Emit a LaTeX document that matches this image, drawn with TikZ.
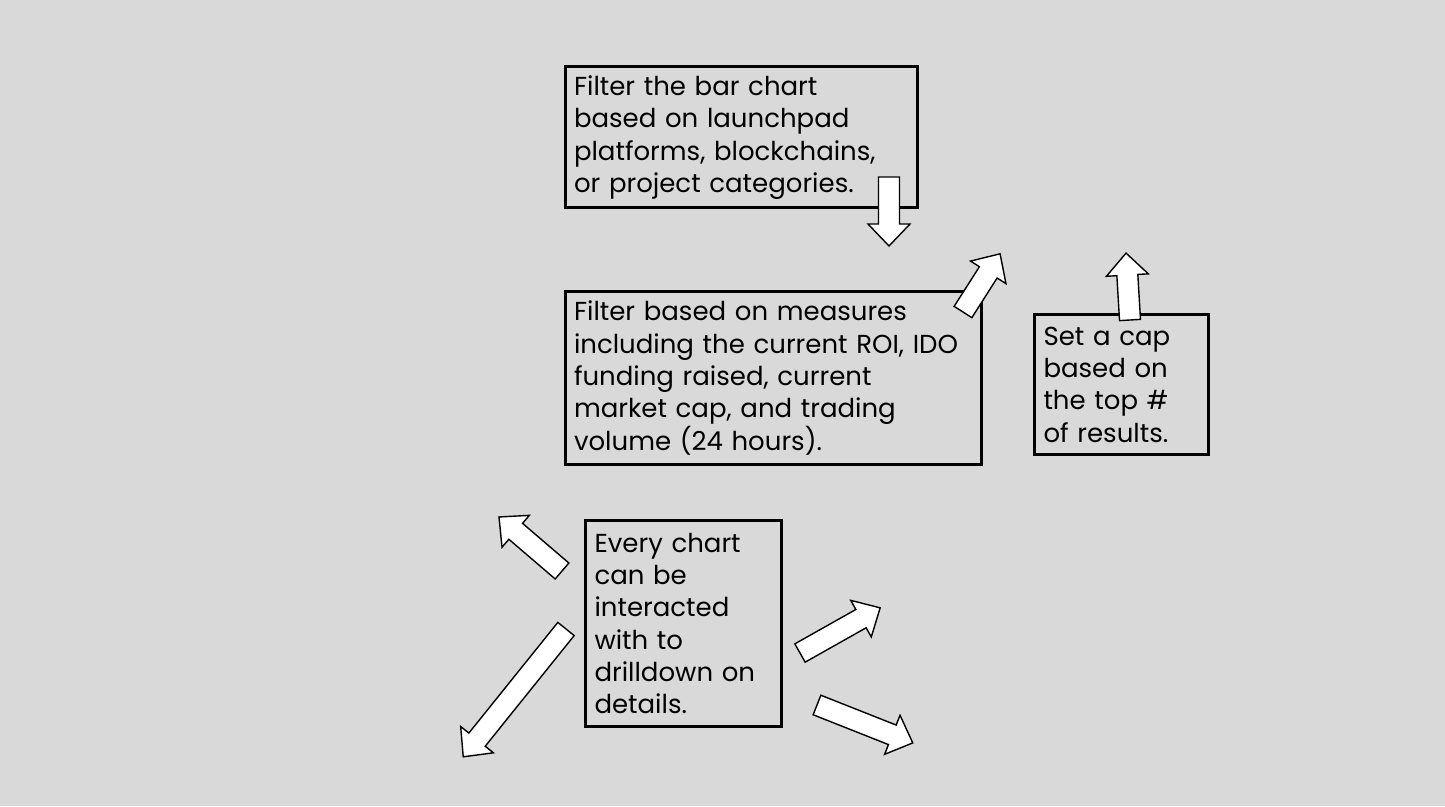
\documentclass[tikz,border=0pt]{standalone}
\usepackage{fontspec}
\setmainfont{Poppins}
\usetikzlibrary{shapes.geometric}
\definecolor{slidegray}{HTML}{D9D9D9}
\tikzstyle{box} = [rectangle, draw=black, line width=3pt, fill=slidegray, align=left, inner xsep=9pt, font=\fontsize{26}{32.3}\selectfont]
\tikzstyle{blk} = [draw=black, fill=white, line width=1.4pt, line join=miter]
\newcommand{\blkarrow}[3]{%
  \draw[blk, shift={#1}, rotate=#2] (0,-10.5) -- (#3-22,-10.5) -- (#3-22,-21) -- (#3,0)
    -- (#3-22,21) -- (#3-22,10.5) -- (0,10.5) -- cycle;}

\begin{document}
\begin{tikzpicture}[x=1pt, y=1pt]
  \fill[slidegray] (0,0) rectangle (1445,806);
  \useasboundingbox (0,0) rectangle (1445,806);
  \node (bars) [box, minimum width=352pt, minimum height=141pt, text width=334pt] at (741,668.5)
    {Filter the bar chart\\based on launchpad\\platforms, blockchains,\\or project categories.};
  \node (measures) [box, minimum width=416pt, minimum height=173pt, text width=398pt] at (773,428)
    {Filter based on measures\\including the current ROI, IDO\\funding raised, current\\market cap, and trading\\volume (24 hours).};
  \node (cap) [box, minimum width=174pt, minimum height=140pt, text width=156pt] at (1121.5,421.5)
    {Set a cap\\based on\\the top \#\\of results.};
  \node (drill) [box, minimum width=196pt, minimum height=206pt, text width=178pt] at (683.5,182.5)
    {Every chart\\can be\\interacted\\with to\\drilldown on\\details.};
  \blkarrow{(889,629)}{-90}{69}
  \blkarrow{(963,494)}{57.5}{69}
  \blkarrow{(1130,486)}{93.4}{67}
  \blkarrow{(562,235)}{139.4}{83}
  \blkarrow{(566,177)}{-128.8}{164}
  \blkarrow{(800,153)}{29.4}{92}
  \blkarrow{(817,101)}{-21.6}{103}
\end{tikzpicture}
\end{document}
